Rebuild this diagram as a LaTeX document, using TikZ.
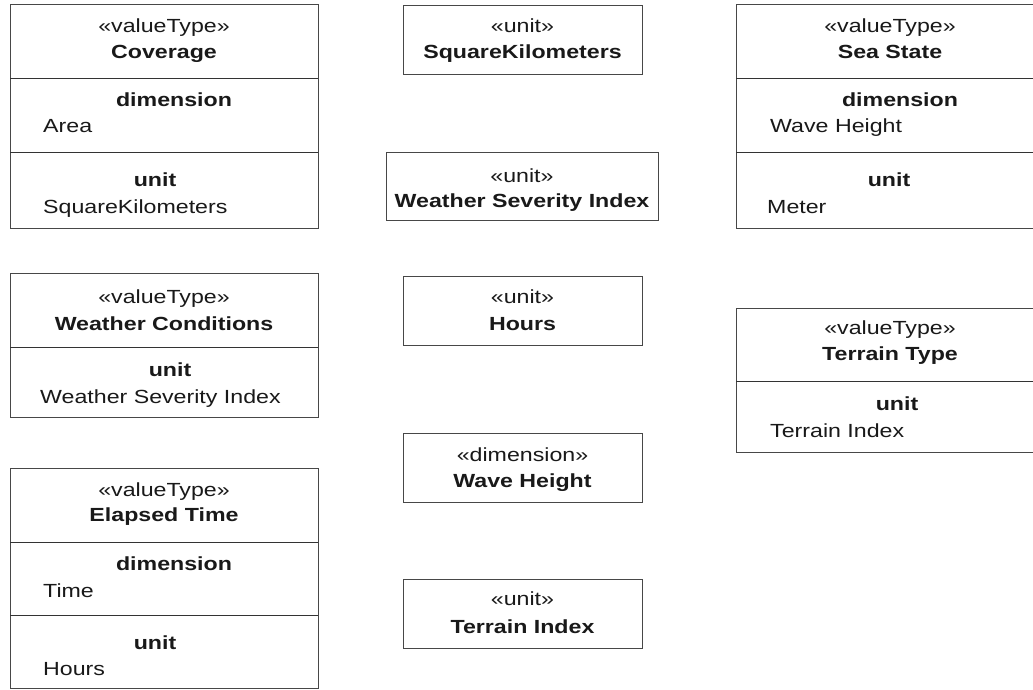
\documentclass[tikz,border=0pt]{standalone}
\usepackage{fontspec}
\setmainfont{Liberation Sans}[FakeStretch=1.22]
\begin{document}
\begin{tikzpicture}[x=1pt,y=-1pt,
  box/.style={draw=black!72, line width=1.2pt, fill=white, rectangle, inner sep=0pt, anchor=north west},
  sep/.style={draw=black!80, line width=1pt},
  txt/.style={anchor=base, inner sep=0pt, text=black!90, font=\fontsize{19}{23}\selectfont},
  bt/.style={txt, font=\fontsize{19}{23}\selectfont\bfseries},
  att/.style={txt, anchor=base west}]
\useasboundingbox (0,0) rectangle (1033,690);
\clip (0,0) rectangle (1033,690);

% Coverage
\node[box, minimum width=308pt, minimum height=224pt] (cov) at (10,4) {};
\draw[sep] (10,79) -- (318,79);
\draw[sep] (10,152) -- (318,152);
\node[txt] (covS) at (164,33) {«valueType»};
\node[bt]  (covN) at (164,59) {Coverage};
\node[bt]  (covD) at (174,107) {dimension};
\node[att] (covDv) at (43,133) {Area};
\node[bt]  (covU) at (155,186) {unit};
\node[att] (covUv) at (43,213) {SquareKilometers};

% Weather Conditions
\node[box, minimum width=308pt, minimum height=144pt] (wc) at (10,273) {};
\draw[sep] (10,347) -- (318,347);
\node[txt] (wcS) at (164,303) {«valueType»};
\node[bt]  (wcN) at (164,330) {Weather Conditions};
\node[bt]  (wcU) at (170,376) {unit};
\node[att] (wcUv) at (40,403) {Weather Severity Index};

% Elapsed Time
\node[box, minimum width=308pt, minimum height=220pt] (et) at (10,468) {};
\draw[sep] (10,542) -- (318,542);
\draw[sep] (10,615) -- (318,615);
\node[txt] (etS) at (164,496) {«valueType»};
\node[bt]  (etN) at (164,521) {Elapsed Time};
\node[bt]  (etD) at (174,570) {dimension};
\node[att] (etDv) at (43,597) {Time};
\node[bt]  (etU) at (155,649) {unit};
\node[att] (etUv) at (43,675) {Hours};

% Middle column
\node[box, minimum width=239pt, minimum height=69pt] (sqk) at (403,5) {};
\node[txt] (sqkS) at (522.5,33) {«unit»};
\node[bt]  (sqkN) at (522.5,59) {SquareKilometers};

\node[box, minimum width=272pt, minimum height=68pt] (wsi) at (386,152) {};
\node[txt] (wsiS) at (522,182) {«unit»};
\node[bt]  (wsiN) at (522,207) {Weather Severity Index};

\node[box, minimum width=239pt, minimum height=69pt] (hrs) at (403,276) {};
\node[txt] (hrsS) at (522.5,303) {«unit»};
\node[bt]  (hrsN) at (522.5,330) {Hours};

\node[box, minimum width=239pt, minimum height=69pt] (wh) at (403,433) {};
\node[txt] (whS) at (522.5,461) {«dimension»};
\node[bt]  (whN) at (522.5,487) {Wave Height};

\node[box, minimum width=239pt, minimum height=69pt] (ti) at (403,579) {};
\node[txt] (tiS) at (522.5,605) {«unit»};
\node[bt]  (tiN) at (522.5,633) {Terrain Index};

% Sea State
\node[box, minimum width=308pt, minimum height=224pt] (ss) at (736,4) {};
\draw[sep] (736,79) -- (1044,79);
\draw[sep] (736,152) -- (1044,152);
\node[txt] (ssS) at (890,33) {«valueType»};
\node[bt]  (ssN) at (890,59) {Sea State};
\node[bt]  (ssD) at (900,107) {dimension};
\node[att] (ssDv) at (770,133) {Wave Height};
\node[bt]  (ssU) at (889,186) {unit};
\node[att] (ssUv) at (767,213) {Meter};

% Terrain Type
\node[box, minimum width=308pt, minimum height=144pt] (tt) at (736,308) {};
\draw[sep] (736,381) -- (1044,381);
\node[txt] (ttS) at (890,334) {«valueType»};
\node[bt]  (ttN) at (890,360) {Terrain Type};
\node[bt]  (ttU) at (897,410) {unit};
\node[att] (ttUv) at (770,437) {Terrain Index};
\end{tikzpicture}
\end{document}
